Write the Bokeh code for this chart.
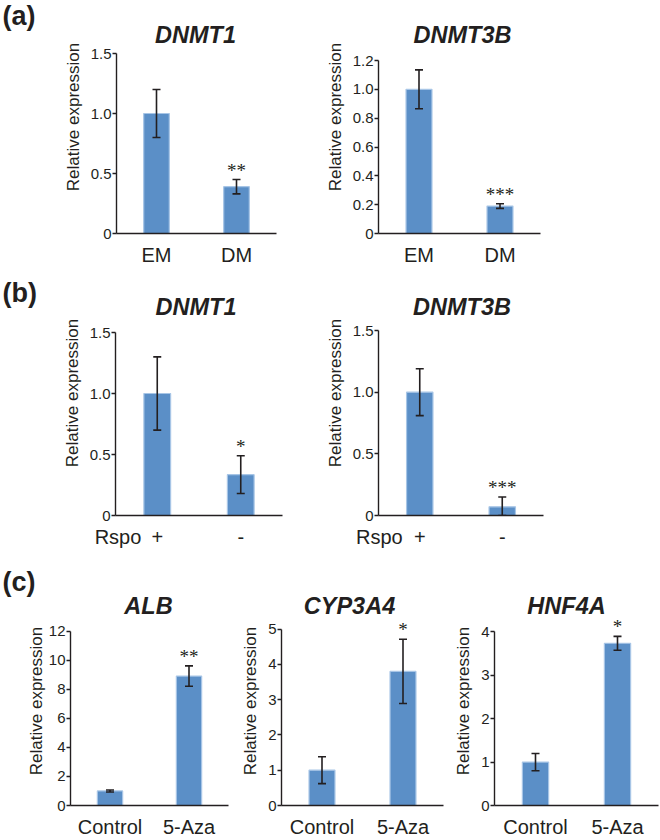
from bokeh.plotting import figure
from bokeh.models import (ColumnDataSource, Whisker, TeeHead, LabelSet, Label,
                          FactorRange, Range1d, FixedTicker)
from bokeh.layouts import column, row
from bokeh.embed import file_html
from bokeh.resources import INLINE

FONT = "Liberation Sans"
INK = "#231f20"
BAR_FILL = "#5b8fc7"
BAR_EDGE = "#a7c5e6"
TITLE_SHIFT = 7   # calibration of the gene-title label baseline
TAG_SHIFT = 8     # calibration of the panel-tag label baseline

# ---------------- data ----------------
a_groups = ["EM", "DM"]
a1_title = "DNMT1"
a1_values = [1.0, 0.39]
a1_errors = [0.20, 0.06]
a1_stars = ["", "**"]
a1_ticks = [0, 0.5, 1.0, 1.5]
a1_tick_labels = ["0", "0.5", "1.0", "1.5"]

a2_title = "DNMT3B"
a2_values = [1.0, 0.19]
a2_errors = [0.135, 0.016]
a2_stars = ["", "***"]
a2_ticks = [0, 0.2, 0.4, 0.6, 0.8, 1.0, 1.2]
a2_tick_labels = ["0", "0.2", "0.4", "0.6", "0.8", "1.0", "1.2"]

b_groups = ["+", "-"]
b_axis_name = "Rspo"
b1_title = "DNMT1"
b1_values = [1.0, 0.335]
b1_errors = [0.30, 0.155]
b1_stars = ["", "*"]
b1_ticks = [0, 0.5, 1.0, 1.5]
b1_tick_labels = ["0", "0.5", "1.0", "1.5"]

b2_title = "DNMT3B"
b2_values = [1.0, 0.07]
b2_errors = [0.19, 0.08]
b2_stars = ["", "***"]
b2_ticks = [0, 0.5, 1.0, 1.5]
b2_tick_labels = ["0", "0.5", "1.0", "1.5"]

c_groups = ["Control", "5-Aza"]
c1_title = "ALB"
c1_values = [1.0, 8.9]
c1_errors = [0.07, 0.70]
c1_stars = ["", "**"]
c1_ticks = [0, 2, 4, 6, 8, 10, 12]
c1_tick_labels = ["0", "2", "4", "6", "8", "10", "12"]

c2_title = "CYP3A4"
c2_values = [1.0, 3.8]
c2_errors = [0.38, 0.91]
c2_stars = ["", "*"]
c2_ticks = [0, 1, 2, 3, 4, 5]
c2_tick_labels = ["0", "1", "2", "3", "4", "5"]

c3_title = "HNF4A"
c3_values = [1.0, 3.74]
c3_errors = [0.20, 0.16]
c3_stars = ["", "*"]
c3_ticks = [0, 1, 2, 3, 4]
c3_tick_labels = ["0", "1", "2", "3", "4"]

panel_tags = ["(a)", "(b)", "(c)"]
Y_LABEL = "Relative expression"


def style_axis_common(ax):
    ax.axis_line_color = INK
    ax.axis_line_width = 1.4
    ax.minor_tick_line_color = None


def panel(title, groups, values, errors, stars, ticks, tick_labels,
          W, H, L, fw, ft, yt, yb, title_base, title_dx=0, rspo=None, tag=None,
          label_standoff=5):
    """W,H figure size; L frame left; fw frame width; ft frame top;
    yt pixel of top tick; yb pixel of zero line (all in figure pixels)."""
    upper = [v + e for v, e in zip(values, errors)]
    lower = [max(v - e, ticks[0]) for v, e in zip(values, errors)]
    if rspo is None:
        xs = list(groups)
        x_range = FactorRange(*groups)
    else:
        # category slots 0..n on a numeric range, so that a side label can share the axis
        xs = [i + 0.5 for i in range(len(groups))]
        x_range = Range1d(0, len(groups))
    src = ColumnDataSource(dict(x=xs, v=values, upper=upper, lower=lower, stars=stars))
    y_end = ticks[-1] * (yb - ft) / (yb - yt)
    p = figure(x_range=x_range, y_range=Range1d(ticks[0], y_end),
               width=W, height=H,
               min_border_left=L, min_border_top=ft,
               min_border_right=W - L - fw, min_border_bottom=H - yb,
               output_backend="svg", toolbar_location=None, title=tag)
    if tag is not None:
        p.title.text_font = FONT
        p.title.text_font_size = "27px"
        p.title.text_font_style = "bold"
        p.title.text_color = INK
        p.title.align = "left"
        p.title.offset = 2 - L
        p.title.standoff = 0
    p.vbar(x="x", top="v", width=0.32, source=src, fill_color=BAR_FILL,
           line_color=BAR_EDGE, line_width=1.2)
    p.add_layout(Whisker(base="x", upper="upper", lower="lower", source=src, level="overlay",
                         line_color=INK, line_width=1.6,
                         upper_head=TeeHead(size=8, line_color=INK, line_width=1.6),
                         lower_head=TeeHead(size=8, line_color=INK, line_width=1.6)))
    p.add_layout(LabelSet(x="x", y="upper", text="stars", source=src,
                          text_align="center", text_baseline="alphabetic",
                          text_font=FONT, text_font_size="19px", text_color=INK,
                          y_offset=3))
    # gene title, inside the (extended) frame
    p.add_layout(Label(x=fw / 2 + title_dx, y=yb - title_base + TITLE_SHIFT,
                       x_units="screen", y_units="screen",
                       text=title, text_align="center", text_baseline="alphabetic",
                       text_font=FONT, text_font_style="bold italic", text_font_size="23.5px",
                       text_color=INK))
    p.outline_line_color = None
    p.xgrid.grid_line_color = None
    p.ygrid.grid_line_color = None
    p.background_fill_color = "white"
    p.border_fill_color = "white"

    xa = p.xaxis[0]
    if rspo is not None:
        name, pos = rspo
        xt = [pos] + xs
        xl = [name] + list(groups)
        xa.ticker = FixedTicker(ticks=xt)
        xa.major_label_overrides = {t: s for t, s in zip(xt, xl)}
    style_axis_common(xa)
    xa.major_tick_line_color = None
    xa.major_label_text_font = FONT
    xa.major_label_text_font_size = "20px"
    xa.major_label_text_color = INK
    xa.major_label_standoff = 4

    ya = p.yaxis[0]
    style_axis_common(ya)
    ya.bounds = (ticks[0], ticks[-1])
    ya.ticker = FixedTicker(ticks=ticks)
    ya.major_label_overrides = {t: s for t, s in zip(ticks, tick_labels)}
    ya.major_tick_in = 0
    ya.major_tick_out = 4
    ya.major_tick_line_color = INK
    ya.major_tick_line_width = 1.3
    ya.major_label_text_font = FONT
    ya.major_label_text_font_size = "15px"
    ya.major_label_text_color = INK
    ya.major_label_standoff = 1
    ya.axis_label = Y_LABEL
    ya.axis_label_text_font = FONT
    ya.axis_label_text_font_size = "17px"
    ya.axis_label_text_font_style = "normal"
    ya.axis_label_text_color = INK
    ya.axis_label_standoff = label_standoff
    return p


def strip(text, W, H, yb, base):
    """A blank spacer figure (frame aligned with its row) that carries a panel tag."""
    s = figure(width=W, height=H, x_range=Range1d(0, 1), y_range=Range1d(0, 1),
               x_axis_location=None, y_axis_location=None, min_border=0,
               min_border_bottom=H - yb, output_backend="svg", toolbar_location=None)
    s.outline_line_color = None
    s.xgrid.grid_line_color = None
    s.ygrid.grid_line_color = None
    s.add_layout(Label(x=2, y=yb - base + TAG_SHIFT, x_units="screen", y_units="screen",
                       text=text, text_font=FONT, text_font_size="27px",
                       text_font_style="bold", text_color=INK,
                       text_baseline="alphabetic", text_align="left"))
    return s


# row (a): frames share top (0) and zero line (233)
strip_a = strip(panel_tags[0], 45, 270, 233, 23.5)
a1 = panel(a1_title, a_groups, a1_values, a1_errors, a1_stars, a1_ticks, a1_tick_labels,
           255, 270, 71, 160, 0, 53, 233, 41, title_dx=-1)
a2 = panel(a2_title, a_groups, a2_values, a2_errors, a2_stars, a2_ticks, a2_tick_labels,
           360, 270, 78, 162, 0, 60, 233, 41, title_dx=3)

# row (b)
strip_b = strip(panel_tags[1], 45, 290, 245, 30.3)
b1 = panel(b1_title, b_groups, b1_values, b1_errors, b1_stars, b1_ticks, b1_tick_labels,
           255, 290, 70, 167, 0, 62, 245, 43, title_dx=-3, rspo=(b_axis_name, 0.03))
b2 = panel(b2_title, b_groups, b2_values, b2_errors, b2_stars, b2_ticks, b2_tick_labels,
           360, 290, 78, 165, 0, 60, 245, 43, title_dx=1, rspo=(b_axis_name, 0.01))

# row (c)
c1 = panel(c1_title, c_groups, c1_values, c1_errors, c1_stars, c1_ticks, c1_tick_labels,
           232, 280, 70, 158, 36, 71, 248, 55, title_dx=-1, tag=panel_tags[2],
           label_standoff=0)
c2 = panel(c2_title, c_groups, c2_values, c2_errors, c2_stars, c2_ticks, c2_tick_labels,
           214, 280, 49, 162, 36, 69, 248, 55, title_dx=-13)
c3 = panel(c3_title, c_groups, c3_values, c3_errors, c3_stars, c3_ticks, c3_tick_labels,
           214, 280, 48, 164, 36, 72, 248, 55, title_dx=-10)

layout = column(row(strip_a, a1, a2),
                row(strip_b, b1, b2),
                row(c1, c2, c3))

with open("out.html", "w") as f:
    f.write(file_html(layout, INLINE))
